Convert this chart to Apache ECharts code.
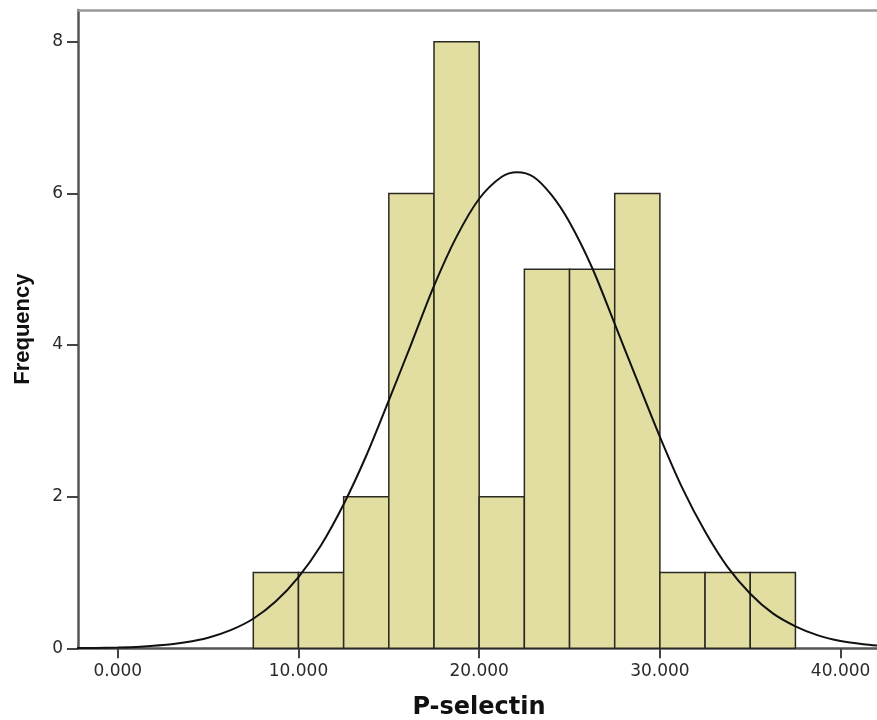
<!DOCTYPE html>
<html>
<head>
<meta charset="utf-8">
<script src="https://cdn.jsdelivr.net/npm/echarts@6/dist/echarts.min.js"></script>
<style>
  html, body { margin: 0; padding: 0; background: #ffffff; }
  #chart { width: 877px; height: 720px; }
</style>
</head>
<body>
<div id="chart"></div>
<script>
// Histogram bins of P-selectin (lower edge, upper edge) and their frequencies
const binLower = [7.5, 10, 12.5, 15, 17.5, 20, 22.5, 25, 27.5, 30, 32.5, 35];
const binUpper = [10, 12.5, 15, 17.5, 20, 22.5, 25, 27.5, 30, 32.5, 35, 37.5];
const frequency = [1, 1, 2, 6, 8, 2, 5, 5, 6, 1, 1, 1];

// Fitted normal curve, sampled along the x axis
const curveX = [-2.5, -1.25, 0, 1.25, 2.5, 3.75, 5, 6.25, 7.5, 8.75, 10, 11.25, 12.5, 13.75, 15, 16.25,
  17.5, 18.75, 20, 21.25, 22.1, 23, 24, 25, 26.25, 27.5, 28.75, 30, 31.25, 32.5, 33.75, 35, 36.25,
  37.5, 38.75, 40, 41.25, 42.5];
const curveY = [0.002, 0.005, 0.011, 0.022, 0.042, 0.079, 0.14, 0.24, 0.39, 0.62, 0.94, 1.36, 1.9, 2.54, 3.27, 4.02,
  4.78, 5.43, 5.93, 6.22, 6.28, 6.22, 5.98, 5.62, 5.02, 4.28, 3.53, 2.79, 2.11, 1.54, 1.07, 0.72, 0.46,
  0.29, 0.17, 0.095, 0.053, 0.028];

// Tick labels
const xTicks = [0, 10, 20, 30, 40];
const yTicks = [0, 2, 4, 6, 8];

const bins = binLower.map((lo, i) => [lo, binUpper[i], frequency[i]]);
const curve = curveX.map((x, i) => [x, curveY[i]]);

const chart = echarts.init(document.getElementById('chart'), null, { renderer: 'canvas' });

const tickFont = { fontFamily: 'DejaVu Sans', fontSize: 17, color: '#2a2a2a' };
const X_MIN = -2.2, X_MAX = 42.18;

chart.setOption({
  animation: false,
  backgroundColor: '#ffffff',
  grid: { left: 78, right: -3, top: 10, bottom: 71.7, show: false, outerBoundsMode: 'none', containLabel: false },
  xAxis: [
    {
      type: 'value',
      min: X_MIN, max: X_MAX,
      name: 'P-selectin',
      nameLocation: 'middle',
      nameGap: 47,
      nameTextStyle: { fontFamily: 'DejaVu Sans', fontWeight: 'bold', fontSize: 24, color: '#111' },
      axisLine: { show: true, onZero: false, lineStyle: { color: '#555', width: 2.5 } },
      axisTick: { show: true, customValues: xTicks, length: 10, lineStyle: { color: '#444', width: 2 } },
      axisLabel: {
        customValues: xTicks, margin: 15, ...tickFont,
        formatter: v => Number(v).toFixed(3)
      },
      splitLine: { show: false }
    },
    {
      // top frame line
      type: 'value',
      position: 'top',
      min: X_MIN, max: X_MAX,
      axisLine: { show: true, onZero: false, lineStyle: { color: '#9a9a9a', width: 2.5 } },
      axisTick: { show: false },
      axisLabel: { show: false },
      splitLine: { show: false }
    }
  ],
  yAxis: {
    type: 'value',
    min: 0, max: 8.42,
    name: 'Frequency',
    nameLocation: 'middle',
    nameGap: 44,
    nameTextStyle: { fontFamily: 'Liberation Sans', fontWeight: 'bold', fontSize: 22, color: '#111' },
    axisLine: { show: true, onZero: false, lineStyle: { color: '#555', width: 2.5 } },
    axisTick: { show: true, customValues: yTicks, length: 11, lineStyle: { color: '#444', width: 2 } },
    axisLabel: { customValues: yTicks, margin: 15, ...tickFont },
    splitLine: { show: false }
  },
  series: [
    {
      type: 'custom',
      data: bins,
      encode: { x: [0, 1], y: 2 },
      z: 2,
      renderItem: function (params, api) {
        const base = api.coord([api.value(0), 0]);
        const top = api.coord([api.value(1), api.value(2)]);
        return {
          type: 'rect',
          shape: { x: base[0], y: top[1], width: top[0] - base[0], height: base[1] - top[1] },
          style: { fill: '#e2dda1', stroke: '#2a2a22', lineWidth: 1.5 }
        };
      }
    },
    {
      type: 'line',
      data: curve,
      smooth: 0.3,
      showSymbol: false,
      symbol: 'none',
      z: 3,
      lineStyle: { color: '#111', width: 2 }
    }
  ]
});
</script>
</body>
</html>
